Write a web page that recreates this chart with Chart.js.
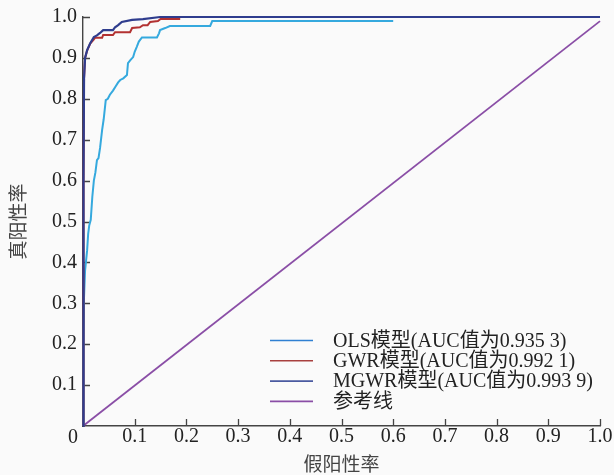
<!DOCTYPE html>
<html>
<head>
<meta charset="utf-8">
<script src="https://cdn.jsdelivr.net/npm/chart.js@4/dist/chart.umd.min.js"></script>
<style>
  html, body { margin: 0; padding: 0; background: #fafafa; }
  #wrap { width: 614px; height: 475px; }
</style>
</head>
<body>
<div id="wrap"><canvas id="roc" width="614" height="475"></canvas></div>
<script>
// ROC points (false positive rate / true positive rate)
var olsFpr = [0, 0.001, 0.002, 0.004, 0.008, 0.010, 0.012, 0.015, 0.018, 0.021, 0.024, 0.027, 0.030, 0.033, 0.037, 0.040, 0.044, 0.048, 0.052, 0.058, 0.063, 0.068, 0.072, 0.078, 0.085, 0.087, 0.092, 0.097, 0.100, 0.104, 0.108, 0.114, 0.143, 0.147, 0.149, 0.159, 0.168, 0.246, 0.250, 0.600];
var olsTpr = [0, 0.20, 0.315, 0.38, 0.43, 0.47, 0.49, 0.504, 0.56, 0.60, 0.62, 0.65, 0.655, 0.68, 0.724, 0.75, 0.797, 0.80, 0.81, 0.82, 0.83, 0.84, 0.846, 0.85, 0.858, 0.887, 0.895, 0.902, 0.915, 0.927, 0.94, 0.95, 0.95, 0.96, 0.968, 0.973, 0.978, 0.978, 0.99, 0.99];

var gwrFpr = [0, 0.001, 0.002, 0.004, 0.008, 0.014, 0.021, 0.023, 0.027, 0.037, 0.039, 0.058, 0.062, 0.091, 0.095, 0.110, 0.116, 0.125, 0.130, 0.145, 0.150, 0.188];
var gwrTpr = [0, 0.60, 0.85, 0.90, 0.918, 0.935, 0.945, 0.949, 0.949, 0.949, 0.956, 0.956, 0.963, 0.963, 0.973, 0.975, 0.98, 0.98, 0.988, 0.99, 0.995, 0.995];

var mgwrFpr = [0, 0.001, 0.002, 0.004, 0.008, 0.014, 0.021, 0.027, 0.033, 0.039, 0.058, 0.062, 0.068, 0.075, 0.095, 0.116, 0.149, 1.0];
var mgwrTpr = [0, 0.60, 0.85, 0.90, 0.919, 0.936, 0.951, 0.955, 0.961, 0.968, 0.968, 0.975, 0.98, 0.988, 0.993, 0.995, 1.0, 1.0];

var refFpr = [0, 1];
var refTpr = [0, 0.99];

var seriesNames = ['OLS模型(AUC值为0.935 3)', 'GWR模型(AUC值为0.992 1)', 'MGWR模型(AUC值为0.993 9)', '参考线'];
var xTicks = [0, 0.1, 0.2, 0.3, 0.4, 0.5, 0.6, 0.7, 0.8, 0.9, 1.0];
var yTicks = [0, 0.1, 0.2, 0.3, 0.4, 0.5, 0.6, 0.7, 0.8, 0.9, 1.0];
var originLabel = '0';

function toPoints(xs, ys) {
  return xs.map(function(v, i) { return { x: v, y: ys[i] }; });
}

var serif = "'Liberation Serif', 'Times New Roman', serif";
var cjk = "'Noto Sans CJK SC', sans-serif";

// tick marks point into the plot, shared "0" sits in the corner
var innerTicks = {
  id: 'innerTicks',
  beforeDatasetsDraw: function(chart) {
    var ctx = chart.ctx, xs = chart.scales.x, ys = chart.scales.y;
    ctx.save();
    ctx.strokeStyle = '#444';
    ctx.lineWidth = 1.3;
    ctx.beginPath();
    xTicks.forEach(function(v) {
      if (v === 0) return;
      var px = Math.round(xs.getPixelForValue(v)) + 0.5;
      ctx.moveTo(px, xs.top);
      ctx.lineTo(px, xs.top - 7);
    });
    yTicks.forEach(function(v) {
      if (v === 0) return;
      var py = Math.round(ys.getPixelForValue(v)) + 0.5;
      ctx.moveTo(ys.right, py);
      ctx.lineTo(ys.right + 7, py);
    });
    ctx.stroke();
    ctx.font = "20px " + serif;
    ctx.fillStyle = '#222';
    ctx.textAlign = 'center';
    ctx.textBaseline = 'middle';
    ctx.fillText(originLabel, ys.right - 10, xs.top + 12);
    ctx.restore();
  }
};

// legend sits inside the plot, lower right
var insideLegend = {
  id: 'insideLegend',
  afterDraw: function(chart) {
    var ctx = chart.ctx;
    var sets = chart.data.datasets;
    ctx.save();
    ctx.font = "20px " + serif + ", " + cjk;
    ctx.textBaseline = 'middle';
    ctx.textAlign = 'left';
    sets.forEach(function(ds, i) {
      var y = 340.5 + i * 20.3;
      ctx.strokeStyle = ds.legendColor;
      ctx.lineWidth = 1.6;
      ctx.beginPath();
      ctx.moveTo(270, y);
      ctx.lineTo(313, y);
      ctx.stroke();
      ctx.fillStyle = '#222';
      ctx.fillText(ds.label, 333, y + 1);
    });
    ctx.restore();
  }
};

var ctx = document.getElementById('roc').getContext('2d');
var chart = new Chart(ctx, {
  type: 'line',
  data: {
    datasets: [{
      label: seriesNames[0],
      data: toPoints(olsFpr, olsTpr),
      borderColor: '#35a9de',
      legendColor: '#2f80d2',
      borderWidth: 2,
      order: 3
    }, {
      label: seriesNames[1],
      data: toPoints(gwrFpr, gwrTpr),
      borderColor: '#b23232',
      legendColor: '#a8403f',
      borderWidth: 2,
      order: 2
    }, {
      label: seriesNames[2],
      data: toPoints(mgwrFpr, mgwrTpr),
      borderColor: '#2f3d8e',
      legendColor: '#4a5aa0',
      borderWidth: 2.2,
      order: 1
    }, {
      label: seriesNames[3],
      data: toPoints(refFpr, refTpr),
      borderColor: '#8a4ea6',
      legendColor: '#8a4ea6',
      borderWidth: 1.8,
      order: 4
    }]
  },
  options: {
    responsive: false,
    animation: false,
    clip: false,
    layout: { padding: { top: 17, right: 14, left: 0, bottom: 0 } },
    elements: { point: { radius: 0 }, line: { tension: 0 } },
    plugins: { legend: { display: false }, tooltip: { enabled: false } },
    scales: {
      x: {
        type: 'linear',
        min: 0,
        max: 1,
        afterBuildTicks: function(scale) {
          scale.ticks = xTicks.map(function(v) { return { value: v }; });
        },
        afterFit: function(scale) { scale.height = 49; },
        grid: { display: false, drawTicks: false },
        border: { display: true, color: '#444', width: 1.4 },
        ticks: {
          padding: 1,
          color: '#222',
          font: { family: serif, size: 20, lineHeight: 1 },
          maxRotation: 0,
          callback: function(v) { return v === 0 ? '' : v.toFixed(1); }
        },
        title: {
          display: true,
          text: '假阳性率',
          color: '#444',
          font: { family: cjk, size: 19, lineHeight: 1.2 },
          padding: { top: 1, bottom: 0 }
        }
      },
      y: {
        type: 'linear',
        min: 0,
        max: 1,
        afterBuildTicks: function(scale) {
          scale.ticks = yTicks.map(function(v) { return { value: v }; });
        },
        afterFit: function(scale) { scale.width = 83; },
        grid: { display: false, drawTicks: false },
        border: { display: true, color: '#444', width: 1.4 },
        ticks: {
          padding: 6,
          color: '#222',
          font: { family: serif, size: 20, lineHeight: 1 },
          callback: function(v) { return v === 0 ? '' : v.toFixed(1); }
        },
        title: {
          display: true,
          text: '真阳性率',
          color: '#444',
          font: { family: cjk, size: 19, lineHeight: 1.2 },
          padding: { top: 6, bottom: 0 }
        }
      }
    }
  },
  plugins: [innerTicks, insideLegend]
});
</script>
</body>
</html>
